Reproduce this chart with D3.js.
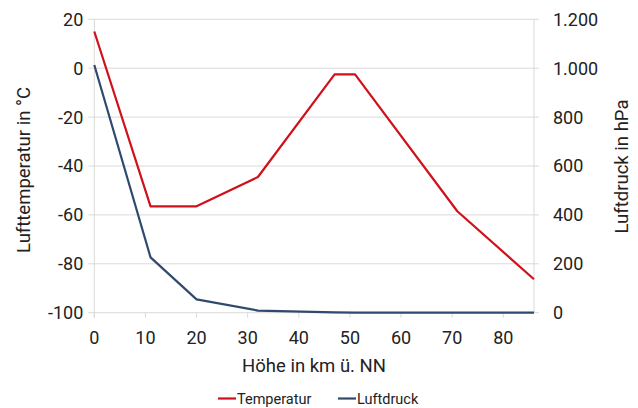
<!DOCTYPE html>
<html><head><meta charset="utf-8">
<script src="https://cdn.jsdelivr.net/npm/d3@7"></script>
<style>body{margin:0;background:#fff}svg{display:block;font-family:Roboto,"Liberation Sans",sans-serif}</style>
</head><body><svg id="c" width="638" height="408"></svg>
<script>
const altitude = [0, 11, 20, 32, 47, 51, 71, 86];
const temperature = [15, -56.5, -56.5, -44.5, -2.5, -2.5, -58.5, -86.3];
const pressure = [1013.25, 226.3, 54.7, 8.7, 1.1, 0.7, 0.04, 0.004];
const xTicks = [0, 10, 20, 30, 40, 50, 60, 70, 80];
const tempTicks = [20, 0, -20, -40, -60, -80, -100];
const presTicks = [1200, 1000, 800, 600, 400, 200, 0];
const seriesNames = ["Temperatur", "Luftdruck"];
const colors = ["#d0101a", "#2f4a6e"];

const svg = d3.select("#c");
const L = 94.3, R = 534, T = 19.3, B = 312.7;
const x = d3.scaleLinear().domain([0, 86]).range([L, R]);
const yT = d3.scaleLinear().domain([-100, 20]).range([B, T]);
const yP = d3.scaleLinear().domain([0, 1200]).range([B, T]);
const grid = "#d9d9d9", txt = "#222";
const fmt = d => d3.format(",")(d).replace(/,/g, ".");

// gridlines
svg.append("g").selectAll("line").data(tempTicks).join("line")
  .attr("x1", L - 6).attr("x2", R + 5)
  .attr("y1", d => yT(d)).attr("y2", d => yT(d))
  .attr("stroke", grid).attr("stroke-width", 1);
// axis lines
svg.append("line").attr("x1", L).attr("x2", L).attr("y1", T).attr("y2", B + 5).attr("stroke", grid);
svg.append("line").attr("x1", R).attr("x2", R).attr("y1", T).attr("y2", B).attr("stroke", grid);
svg.append("g").selectAll("line").data(xTicks).join("line")
  .attr("x1", d => x(d)).attr("x2", d => x(d)).attr("y1", B).attr("y2", B + 5)
  .attr("stroke", grid);

// tick labels
svg.append("g").selectAll("text").data(tempTicks).join("text")
  .attr("x", L - 11).attr("y", d => yT(d)).attr("dy", "0.36em")
  .attr("text-anchor", "end").attr("font-size", 18).attr("fill", txt).text(d => d < 0 ? "-" + Math.abs(d) : d);
svg.append("g").selectAll("text").data(presTicks).join("text")
  .attr("x", R + 19).attr("y", d => yP(d)).attr("dy", "0.36em")
  .attr("text-anchor", "start").attr("font-size", 18).attr("fill", txt).text(fmt);
svg.append("g").selectAll("text").data(xTicks).join("text")
  .attr("x", d => x(d)).attr("y", B + 25).attr("dy", "0.36em")
  .attr("text-anchor", "middle").attr("font-size", 18).attr("fill", txt).text(d => d);

// titles
svg.append("text").attr("x", 314).attr("y", 372).attr("text-anchor", "middle")
  .attr("font-size", 18.5).attr("fill", txt).text("Höhe in km ü. NN");
svg.append("text").attr("transform", `translate(23,170) rotate(-90)`)
  .attr("text-anchor", "middle").attr("dy", "0.36em").attr("font-size", 18.5).attr("fill", txt).text("Lufttemperatur in °C");
svg.append("text").attr("transform", `translate(621,166.5) rotate(-90)`)
  .attr("text-anchor", "middle").attr("dy", "0.36em").attr("font-size", 18.5).attr("fill", txt).text("Luftdruck in hPa");

// lines
const pts = altitude.map((a, i) => ({a, t: temperature[i], p: pressure[i]}));
svg.append("path").datum(pts).attr("fill", "none").attr("stroke", colors[0]).attr("stroke-width", 2.2)
  .attr("stroke-linejoin", "round")
  .attr("d", d3.line().x(d => x(d.a)).y(d => yT(d.t)));
svg.append("path").datum(pts).attr("fill", "none").attr("stroke", colors[1]).attr("stroke-width", 2.2)
  .attr("stroke-linejoin", "round")
  .attr("d", d3.line().x(d => x(d.a)).y(d => yP(d.p)));

// legend
const legX = [218, 338];
const lg = svg.append("g").selectAll("g").data(seriesNames).join("g")
  .attr("transform", (d, i) => `translate(${legX[i]},398.5)`);
lg.append("line").attr("x1", 0).attr("x2", 18).attr("y1", 0).attr("y2", 0)
  .attr("stroke", (d, i) => colors[i]).attr("stroke-width", 2.2);
lg.append("text").attr("x", 19).attr("y", 0).attr("dy", "0.35em").attr("font-size", 14.5)
  .attr("fill", txt).text(d => d);
</script></body></html>
